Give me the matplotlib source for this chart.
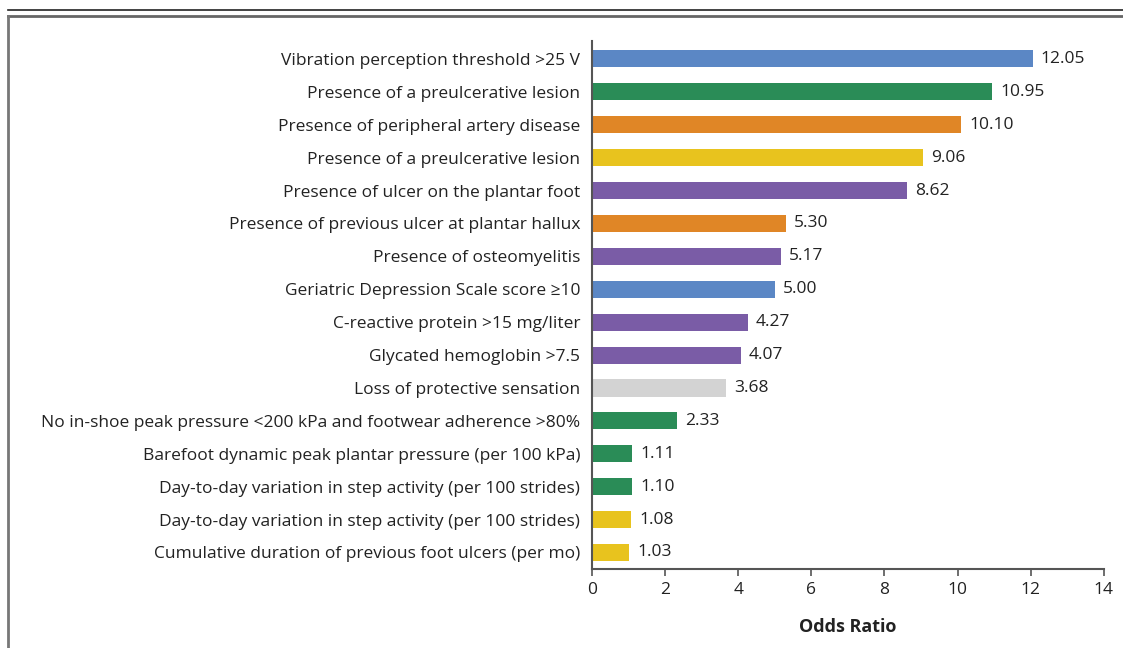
import matplotlib
matplotlib.use("Agg")
import matplotlib.pyplot as plt
from matplotlib.lines import Line2D

labels = [
    "Vibration perception threshold >25 V",
    "Presence of a preulcerative lesion",
    "Presence of peripheral artery disease",
    "Presence of a preulcerative lesion",
    "Presence of ulcer on the plantar foot",
    "Presence of previous ulcer at plantar hallux",
    "Presence of osteomyelitis",
    "Geriatric Depression Scale score \u226510",
    "C-reactive protein >15 mg/liter",
    "Glycated hemoglobin >7.5",
    "Loss of protective sensation",
    "No in-shoe peak pressure <200 kPa and footwear adherence >80%",
    "Barefoot dynamic peak plantar pressure (per 100 kPa)",
    "Day-to-day variation in step activity (per 100 strides)",
    "Day-to-day variation in step activity (per 100 strides)",
    "Cumulative duration of previous foot ulcers (per mo)",
]
values = [12.05, 10.95, 10.10, 9.06, 8.62, 5.30, 5.17, 5.00, 4.27, 4.07, 3.68, 2.33, 1.11, 1.10, 1.08, 1.03]
groups = ["blue", "green", "orange", "yellow", "purple", "orange", "purple", "blue",
          "purple", "purple", "gray", "green", "green", "green", "yellow", "yellow"]
palette = {"blue": "#5B87C5", "green": "#2A8C57", "orange": "#E08626",
           "yellow": "#E8C31E", "purple": "#7A5CA6", "gray": "#D3D3D3"}
xticks = [0, 2, 4, 6, 8, 10, 12, 14]

plt.rcParams['font.family'] = ['Open Sans', 'DejaVu Sans']
txt = "#222222"

fig = plt.figure(figsize=(11.23, 6.48), dpi=100)
ax = fig.add_axes([0.527, 0.122, 0.456, 0.815])

ypos = list(range(len(values)))
ax.barh(ypos, values, height=0.52, color=[palette[g] for g in groups])
for y, v in zip(ypos, values):
    ax.text(v + 0.22, y, f"{v:.2f}", va="center", ha="left", fontsize=12.5, color=txt)

ax.set_ylim(len(values) - 0.5, -0.55)
ax.set_xlim(0, 14)
ax.set_yticks(ypos)
ax.set_yticklabels(labels, fontsize=12.5, color=txt)
ax.set_xticks(xticks)
ax.set_xticklabels([str(t) for t in xticks], fontsize=12.5, color=txt)
ax.tick_params(axis="y", length=0, pad=8.5)
ax.tick_params(axis="x", length=5, width=1.2, color="#555555", pad=4.5)
for s in ["top", "right"]:
    ax.spines[s].set_visible(False)
for s in ["left", "bottom"]:
    ax.spines[s].set_color("#555555")
    ax.spines[s].set_linewidth(1.5)
ax.set_xlabel("Odds Ratio", fontsize=13, fontweight="bold", color=txt, labelpad=14)

# frame lines
fig.add_artist(Line2D([0.007, 1.0], [1 - 10/648, 1 - 10/648], color="#222222", lw=1.2, transform=fig.transFigure))
fig.add_artist(Line2D([0.007, 1.0], [1 - 16/648, 1 - 16/648], color="#666666", lw=2.0, transform=fig.transFigure))
fig.add_artist(Line2D([8/1123, 8/1123], [0, 1 - 16/648], color="#777777", lw=2.0, transform=fig.transFigure))

fig.savefig("out.png", dpi=100, facecolor="white")
